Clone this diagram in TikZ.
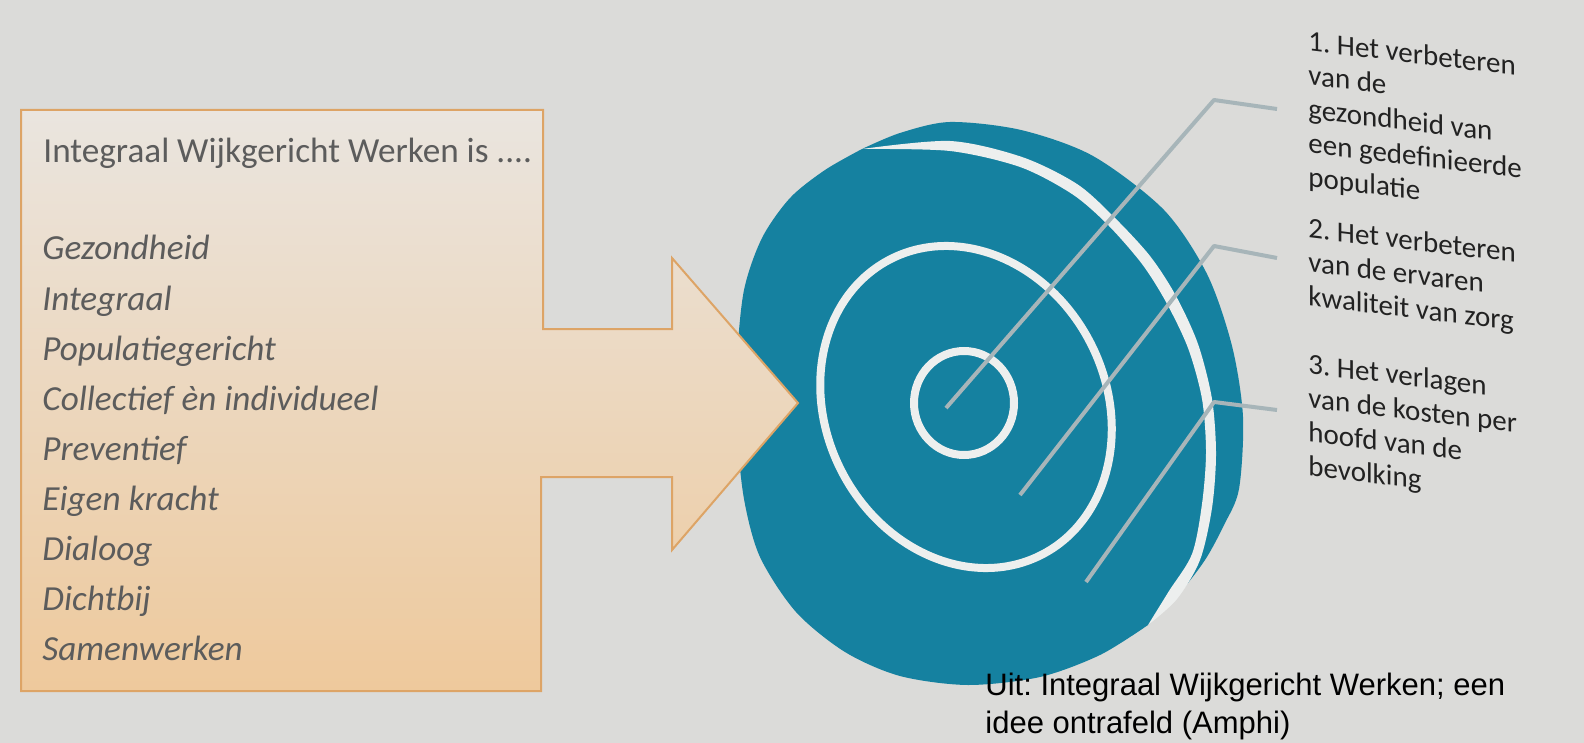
\documentclass[tikz,border=0pt]{standalone}
\usepackage{fontspec}
\setmainfont{Carlito}
\newfontfamily\capfont{Liberation Sans}
\usetikzlibrary{positioning}
\definecolor{paper}{HTML}{DBDBD9}
\definecolor{tealdisc}{HTML}{1581A0}
\definecolor{ringwhite}{HTML}{EDEFEE}
\definecolor{leader}{HTML}{A7B5B9}
\definecolor{arrowedge}{HTML}{DDA466}
\definecolor{arrowtop}{HTML}{EAE5DF}
\definecolor{arrowbot}{HTML}{EEC99C}
\definecolor{listgrey}{HTML}{5C5C5C}
\definecolor{labelink}{HTML}{222222}
\tikzset{
  ring/.style={draw=ringwhite, line width=4pt},
  leaderline/.style={draw=leader, line width=2pt, line join=round},
  listitem/.style={anchor=base west, inner sep=0pt, text=listgrey, font=\fontsize{17.6}{20}\selectfont\itshape},
  goal/.style={anchor=north west, inner sep=0pt, text=labelink, align=left, yslant=-0.12, font=\fontsize{14.5}{17}\selectfont},
}
\begin{document}
\frenchspacing
\begin{tikzpicture}[x=0.5pt,y=-0.5pt]
    % Paper background
    \fill[paper] (0,0) rectangle (1584,743);

    % Teal target: outer crescent running into the body
    \fill[tealdisc] plot[smooth] coordinates {(862,149) (900,133) (950,122) (1021,130) (1093,156) (1164,210) (1207,274) (1232,346) (1243,417) (1239,489) (1224,525) (1205,560) (1178,595) (1148,625)}
        -- plot[smooth] coordinates {(1148,625) (1100,655) (1040,677) (968,685) (900,676) (845,652) (796,612) (760,557) (744,499) (737,430) (737,360) (744,290) (762,238) (790,198) (825,170) (862,149)} -- cycle;
    % White gap between crescent and body, tapering at both ends
    \fill[ringwhite] plot[smooth] coordinates {(862,149) (950,141) (1022,157) (1077,184) (1114,217) (1150,256) (1176,296) (1198,344) (1212,399) (1216,454) (1212,508) (1200,560) (1177,599) (1148,625)}
        -- plot[smooth] coordinates {(1148,625) (1169,591) (1192,554) (1202,504) (1206,452) (1202,399) (1188,348) (1166,302) (1142,264) (1108,225) (1072,194) (1020,167) (950,151) (862,149)} -- cycle;

    % Middle and inner rings
    \draw[ring, rotate around={27:(966,407)}] (966,407) ellipse [x radius=140, y radius=166];
    \draw[ring] (964,403) ellipse [x radius=50, y radius=52];

    % Leader lines from the rings to the three goals
    \foreach \n/\sx/\sy/\by/\ey in {1/946/408/100/109, 2/1020/495/246/258, 3/1086/582/402/410} {
        \coordinate (tip\n) at (\sx,\sy);
        \coordinate (bend\n) at (1214,\by);
        \coordinate (end\n) at (1277,\ey);
        \draw[leaderline] (tip\n) -- (bend\n) -- (end\n);
    }

    % Big arrow with the list
    \shade[draw=arrowedge, line width=1pt, top color=arrowtop, bottom color=arrowbot]
        (21,110) -- (543,110) -- (543,329) -- (672,329) -- (672,258) -- (798,403)
        -- (672,550) -- (672,477) -- (541,477) -- (541,691) -- (21,691) -- cycle;
    \node[anchor=base west, inner sep=0pt, text=listgrey, font=\fontsize{17.6}{20}\selectfont] (intro) at (43,163) {Integraal Wijkgericht Werken is ....};
    \foreach \word [count=\i from 0] in {Gezondheid, Integraal, Populatiegericht, Collectief èn individueel, Preventief, Eigen kracht, Dialoog, Dichtbij, Samenwerken} {
        \node[listitem] (item\i) at (42,260+50.1*\i) {\word};
    }

    % Goals
    \node[goal] (goal1) at (1308,30) {1. Het verbeteren\\van de\\gezondheid van\\een gedefinieerde\\populatie};
    \node[goal] (goal2) at (1308,217) {2. Het verbeteren\\van de ervaren\\kwaliteit van zorg};
    \node[goal] (goal3) at (1308,353) {3. Het verlagen\\van de kosten per\\hoofd van de\\bevolking};

    % Source
    \node[anchor=north west, inner sep=0pt, align=left, font=\capfont\fontsize{15.5}{19}\selectfont] (source) at (985,673) {Uit: Integraal Wijkgericht Werken; een\\idee ontrafeld (Amphi)};
\end{tikzpicture}
\end{document}
